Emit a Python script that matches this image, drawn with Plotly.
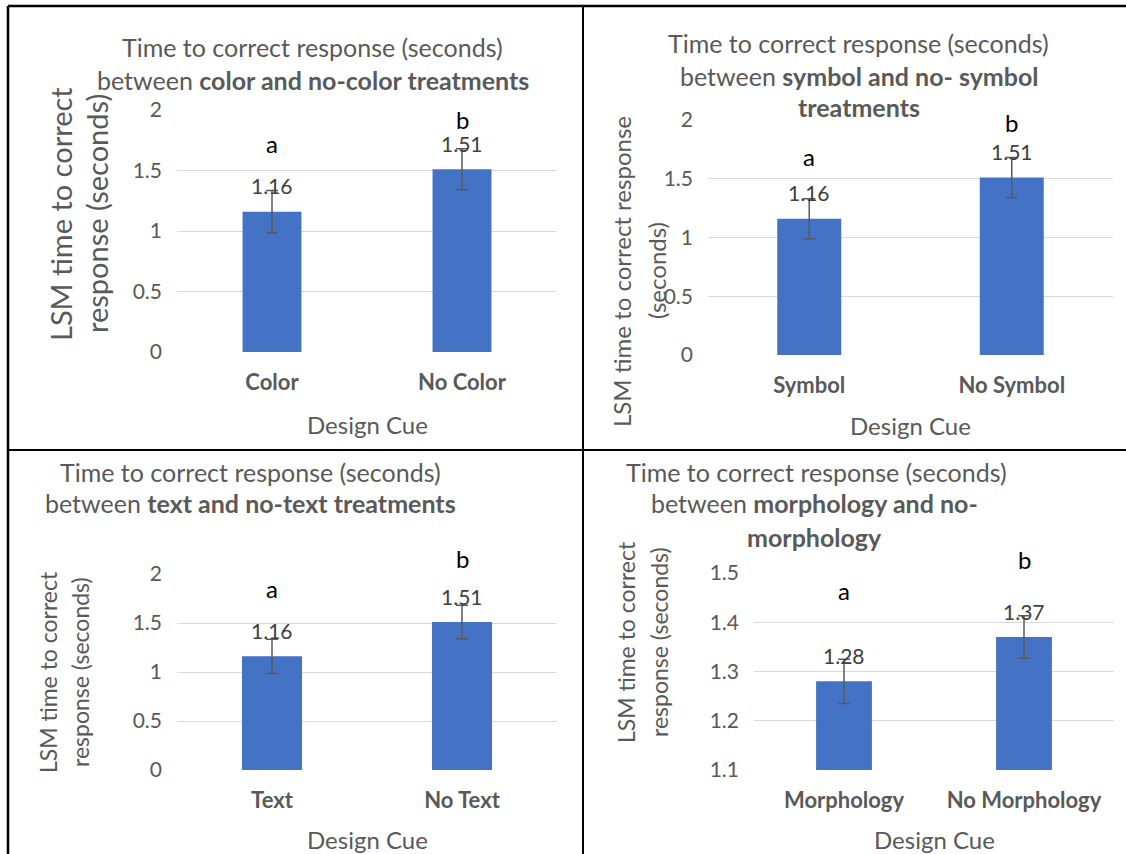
import plotly.graph_objects as go

# ---------------- data ----------------
cats_color = ["Color", "No Color"]
lsm_color = [1.16, 1.51]
err_color = [0.175, 0.17]

cats_symbol = ["Symbol", "No Symbol"]
lsm_symbol = [1.16, 1.51]
err_symbol = [0.17, 0.17]

cats_text = ["Text", "No Text"]
lsm_text = [1.16, 1.51]
err_text = [0.175, 0.17]

cats_morph = ["Morphology", "No Morphology"]
lsm_morph = [1.28, 1.37]
err_morph = [0.045, 0.043]

sig_letters = ["a", "b"]

ticks_main = [0, 0.5, 1, 1.5, 2]
ticks_morph = [1.1, 1.2, 1.3, 1.4, 1.5]

x_title = "Design Cue"

# ---------------- layout helpers ----------------
W, H = 1126, 854
FONT = "Lato"
GRAY = "#595959"
TITLE_SIZE = 25


def fx(p):
    return p / W


def fy(p):
    return 1 - p / H


panels = [
    dict(cats=cats_color, vals=lsm_color, errs=err_color, yrange=[0, 2], ticks=ticks_main,
         box=(177, 557, 110, 352), bw=0.31, letter_shift=[47, 29],
         title=[(312, 47, "Time to correct response (seconds)"),
                (313, 80, "between <b>color and no-color treatments</b>")],
         ytitle=[(60, 214, "LSM time to correct"), (96, 214, "response (seconds)")], ysize=29,
         xlab_y=424),
    dict(cats=cats_symbol, vals=lsm_symbol, errs=err_symbol, yrange=[0, 2], ticks=ticks_main,
         box=(708, 1113, 120, 355), bw=0.316, letter_shift=[42, 35],
         title=[(858, 43, "Time to correct response (seconds)"),
                (859, 76, "between <b>symbol and no- symbol</b>"),
                (859, 107, "<b>treatments</b>")],
         ytitle=[(621, 272, "LSM time to correct response"), (656, 271, "(seconds)")], ysize=24,
         xlab_y=425),
    dict(cats=cats_text, vals=lsm_text, errs=err_text, yrange=[0, 2], ticks=ticks_main,
         box=(177, 557, 574, 770), bw=0.316, letter_shift=[51, 47],
         title=[(251, 472, "Time to correct response (seconds)"),
                (250, 503, "between <b>text and no-text treatments</b>")],
         ytitle=[(48, 672, "LSM time to correct"), (80, 672, "response (seconds)")], ysize=23,
         xlab_y=839),
    dict(cats=cats_morph, vals=lsm_morph, errs=err_morph, yrange=[1.1, 1.5], ticks=ticks_morph,
         box=(754, 1114, 573, 770), bw=0.31, letter_shift=[69, 56],
         title=[(816, 472, "Time to correct response (seconds)"),
                (814, 503, "between <b>morphology and no-</b>"),
                (814, 537, "<b>morphology</b>")],
         ytitle=[(626, 642, "LSM time to correct"), (659, 642, "response (seconds)")], ysize=23,
         xlab_y=839),
]

fig = go.Figure()
annotations = []
layout_axes = {}

for i, p in enumerate(panels, start=1):
    xa = "x" if i == 1 else f"x{i}"
    ya = "y" if i == 1 else f"y{i}"
    x0, x1, yt, yb = p["box"]
    fig.add_trace(go.Bar(
        x=p["cats"], y=p["vals"], xaxis=xa, yaxis=ya,
        width=p["bw"], marker=dict(color="#4472C4", line=dict(width=0)),
        error_y=dict(type="data", array=p["errs"], visible=True,
                     color=GRAY, thickness=1.5, width=6),
        showlegend=False, hoverinfo="skip",
    ))
    xkey = "xaxis" if i == 1 else f"xaxis{i}"
    ykey = "yaxis" if i == 1 else f"yaxis{i}"
    layout_axes[xkey] = dict(
        domain=[fx(x0), fx(x1)], anchor=ya, type="category", automargin=False,
        range=[-0.5, 1.5], showgrid=False, showline=False, zeroline=False,
        tickvals=p["cats"], ticktext=[f"<b>{c}</b>" for c in p["cats"]],
        tickfont=dict(family=FONT, size=22, color=GRAY),
        ticks="", ticklabelstandoff=15, fixedrange=True,
    )
    layout_axes[ykey] = dict(
        domain=[fy(yb), fy(yt)], anchor=xa, range=p["yrange"], automargin=False,
        tickvals=p["ticks"], ticktext=[f"{t:g}" for t in p["ticks"]],
        showgrid=True, gridcolor="#d9d9d9", gridwidth=1,
        zeroline=False, showline=False, ticks="",
        tickfont=dict(family=FONT, size=21, color=GRAY),
        ticklabelstandoff=14, fixedrange=True,
    )
    # value labels
    for c, v in zip(p["cats"], p["vals"]):
        annotations.append(dict(
            x=c, y=v, xref=xa, yref=ya, text=f"{v:.2f}", showarrow=False,
            yshift=26, xanchor="center", yanchor="middle",
            font=dict(family=FONT, size=21, color="#404040")))
    # significance letters (placed above the error-bar tops)
    for c, l, v, e, sh in zip(p["cats"], sig_letters, p["vals"], p["errs"], p["letter_shift"]):
        annotations.append(dict(
            x=c, y=v + e, xref=xa, yref=ya, text=l, showarrow=False,
            yshift=sh, xanchor="center", yanchor="middle",
            font=dict(family=FONT, size=24, color="#000000")))
    # titles
    for tx, ty, tt in p["title"]:
        annotations.append(dict(
            x=fx(tx), y=fy(ty), xref="paper", yref="paper", text=tt, showarrow=False,
            xanchor="center", yanchor="middle",
            font=dict(family=FONT, size=TITLE_SIZE, color=GRAY)))
    # y titles
    for tx, ty, tt in p["ytitle"]:
        annotations.append(dict(
            x=fx(tx), y=fy(ty), xref="paper", yref="paper", text=tt, showarrow=False,
            textangle=-90, xanchor="center", yanchor="middle",
            font=dict(family=FONT, size=p["ysize"], color=GRAY)))
    # x title
    annotations.append(dict(
        x=fx((x0 + x1) / 2), y=fy(p["xlab_y"]), xref="paper", yref="paper",
        text=x_title, showarrow=False, xanchor="center", yanchor="middle",
        font=dict(family=FONT, size=24, color=GRAY)))

shapes = [
    dict(type="line", xref="paper", yref="paper", x0=fx(8), x1=1, y0=fy(6), y1=fy(6),
         line=dict(color="#000000", width=2.5)),
    dict(type="line", xref="paper", yref="paper", x0=fx(8), x1=fx(8), y0=fy(6), y1=0,
         line=dict(color="#000000", width=2.5)),
    dict(type="line", xref="paper", yref="paper", x0=fx(583), x1=fx(583), y0=fy(6), y1=0,
         line=dict(color="#000000", width=2)),
    dict(type="line", xref="paper", yref="paper", x0=fx(8), x1=1, y0=fy(450), y1=fy(450),
         line=dict(color="#000000", width=2)),
]

fig.update_layout(
    width=W, height=H, margin=dict(l=0, r=0, t=0, b=0, autoexpand=False),
    paper_bgcolor="white", plot_bgcolor="white",
    annotations=annotations, shapes=shapes, showlegend=False,
    bargap=0.3, **layout_axes,
)

fig.write_html("out.html", config=dict(displayModeBar=False))
